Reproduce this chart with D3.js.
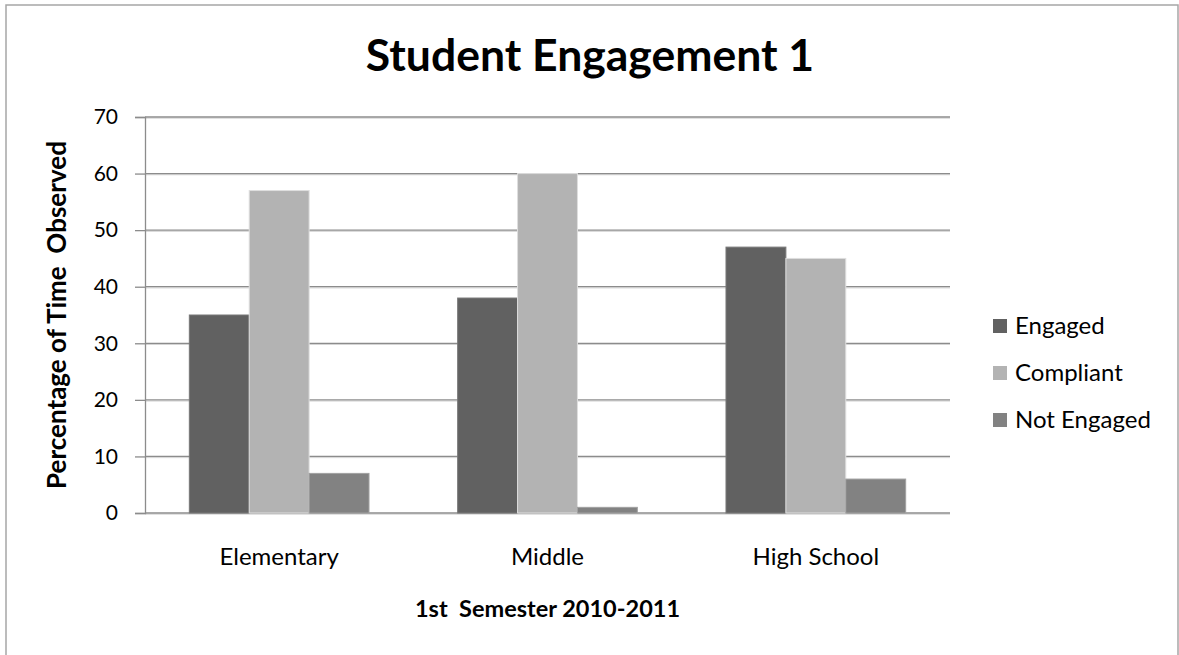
<!DOCTYPE html>
<html>
<head>
<meta charset="utf-8">
<script src="https://cdn.jsdelivr.net/npm/d3@7"></script>
<style>
  body { margin: 0; background: #fff; }
  text { font-family: Lato, "Open Sans", sans-serif; fill: #000; }
</style>
</head>
<body>
<div id="graph"></div>
<script>
"use strict"

// chart values
var categories = ["Elementary", "Middle", "High School"]
var seriesNames = ["Engaged", "Compliant", "Not Engaged"]
var engaged = [35, 38, 47]
var compliant = [57, 60, 45]
var notEngaged = [7, 1, 6]
var yTicks = [0, 10, 20, 30, 40, 50, 60, 70]
var seriesColors = ["#616161", "#b3b3b3", "#828282"]

var width = 1179, height = 655
var margin = {top: 117, left: 145, bottom: 142, right: 229}

main()

function main() {
    let svg = d3.select("#graph").append("svg")
        .attr("width", width).attr("height", height)

    // outer chart frame
    svg.append("rect")
        .attr("x", 6).attr("y", 5)
        .attr("width", 1172).attr("height", 660)
        .attr("fill", "#fff")
        .attr("stroke", "#a6a6a6")
        .attr("stroke-width", 1.5)

    let rows = categories.map(function(c, i) {
        return {cat: c, values: [engaged[i], compliant[i], notEngaged[i]]}
    })

    let x0 = d3.scaleBand()
        .domain(categories)
        .range([margin.left, width - margin.right])
    let x1 = d3.scaleBand()
        .domain(seriesNames)
        .range([0, x0.bandwidth()])
        .paddingOuter(0.74)
        .paddingInner(0)

    let y = d3.scaleLinear()
        .domain([0, 70])
        .range([height - margin.bottom, margin.top])

    // gridlines
    let grid = svg.append("g")
    grid.selectAll(".gl").data(yTicks).enter().append("line")
        .attr("x1", margin.left).attr("x2", width - margin.right)
        .attr("y1", d => y(d) + 1.2).attr("y2", d => y(d) + 1.2)
        .attr("stroke", "#d4d4d4").attr("stroke-width", 1)
    grid.selectAll(".gd").data(yTicks).enter().append("line")
        .attr("x1", margin.left).attr("x2", width - margin.right)
        .attr("y1", d => y(d)).attr("y2", d => y(d))
        .attr("stroke", "#8c8c8c").attr("stroke-width", 1.3)

    // y axis
    let yAxis = svg.append("g")
        .attr("transform", "translate(" + margin.left + ",0)")
        .call(d3.axisLeft(y).tickValues(yTicks).tickSize(10).tickPadding(17))
    yAxis.select(".domain").attr("stroke", "#8c8c8c").attr("stroke-width", 1.3)
    yAxis.selectAll(".tick line").attr("stroke", "#8c8c8c").attr("stroke-width", 1.3)
    yAxis.selectAll("text")
        .style("font-family", "Lato, sans-serif")
        .style("font-size", "21px").attr("fill", "#000")

    // bars
    let groups = svg.selectAll(".grp").data(rows).enter().append("g")
        .attr("transform", d => "translate(" + x0(d.cat) + ",0)")
    groups.selectAll("rect")
        .data(d => d.values.map((v, i) => ({name: seriesNames[i], value: v, i: i})))
        .enter().append("rect")
        .attr("x", d => x1(d.name))
        .attr("width", x1.bandwidth())
        .attr("y", d => y(d.value))
        .attr("height", d => y(0) - y(d.value))
        .attr("fill", d => seriesColors[d.i])
        .attr("stroke", d => d3.color(seriesColors[d.i]).brighter(0.6))
        .attr("stroke-width", 1)

    // x axis labels (no tick marks)
    svg.selectAll(".xl").data(categories).enter().append("text")
        .attr("x", d => x0(d) + x0.bandwidth() / 2)
        .attr("y", 565)
        .attr("text-anchor", "middle")
        .style("font-size", "24px")
        .text(d => d)

    // title
    svg.append("text")
        .attr("x", 590).attr("y", 71)
        .attr("text-anchor", "middle")
        .style("font-size", "44.5px").style("font-weight", "bold")
        .text("Student Engagement 1")

    // axis titles
    svg.append("text")
        .attr("x", (margin.left + width - margin.right) / 2).attr("y", 617)
        .attr("text-anchor", "middle")
        .style("font-size", "23.5px").style("font-weight", "bold")
        .attr("xml:space", "preserve")
        .text("1st  Semester 2010-2011")

    svg.append("text")
        .attr("transform", "translate(66,315) rotate(-90)")
        .attr("text-anchor", "middle")
        .style("font-size", "26px").style("font-weight", "bold")
        .attr("xml:space", "preserve")
        .text("Percentage of Time  Observed")

    // legend
    let legend = svg.selectAll(".lg").data(seriesNames).enter().append("g")
        .attr("transform", (d, i) => "translate(993," + (326 + i * 47) + ")")
    legend.append("rect")
        .attr("x", 0).attr("y", -7)
        .attr("width", 14).attr("height", 14)
        .attr("fill", (d, i) => seriesColors[i])
    legend.append("text")
        .attr("x", 22).attr("y", 8)
        .style("font-size", "24px")
        .text(d => d)
}
</script>
</body>
</html>
